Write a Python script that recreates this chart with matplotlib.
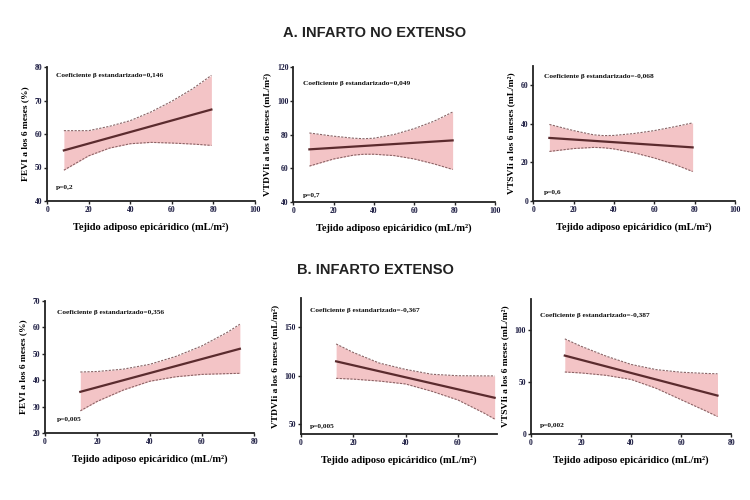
import numpy as np
import matplotlib
matplotlib.use("Agg")
import matplotlib.pyplot as plt

# --- Data ---
# A. Infarto no extenso
a_fevi_x = [8, 20, 30, 40, 50, 60, 70, 79]
a_fevi_up = [61.0, 61.0, 62.3, 64.0, 66.6, 69.8, 73.5, 77.5]
a_fevi_lo = [49.2, 53.5, 55.8, 57.1, 57.5, 57.3, 57.0, 56.6]
a_fevi_line = [55.1, 67.3]

a_vtd_x = [8, 20, 30, 35, 40, 50, 60, 70, 79]
a_vtd_up = [80.9, 79.0, 77.8, 77.5, 77.8, 80.0, 83.5, 88.0, 93.3]
a_vtd_lo = [61.3, 65.5, 67.8, 68.3, 68.3, 67.5, 65.5, 62.5, 59.3]
a_vtd_line = [71.2, 76.5]

a_vts_x = [8, 20, 30, 35, 40, 50, 60, 70, 79]
a_vts_up = [39.7, 36.5, 34.3, 33.9, 34.0, 35.0, 36.5, 38.5, 40.5]
a_vts_lo = [25.7, 27.2, 27.8, 27.6, 27.0, 25.0, 22.3, 19.0, 15.3]
a_vts_line = [32.7, 27.8]

# B. Infarto extenso
b_fevi_x = [13.5, 20, 30, 40, 50, 60, 70, 74.5]
b_fevi_up = [43.1, 43.3, 44.2, 46.0, 49.0, 53.0, 58.3, 61.2]
b_fevi_lo = [28.4, 32.0, 36.3, 39.6, 41.3, 42.2, 42.5, 42.6]
b_fevi_line = [35.6, 51.9]

b_vtd_x = [13.5, 20, 30, 40, 50, 60, 70, 74]
b_vtd_up = [132.7, 124.0, 113.0, 106.5, 101.5, 100.0, 99.8, 99.8]
b_vtd_lo = [97.3, 96.5, 94.5, 91.5, 84.0, 75.0, 61.5, 55.4]
b_vtd_line = [114.8, 77.3]

b_vts_x = [13.5, 20, 30, 40, 50, 60, 70, 74.5]
b_vts_up = [91.6, 84.5, 75.0, 67.0, 62.0, 59.5, 58.3, 58.0]
b_vts_lo = [59.7, 58.8, 56.5, 52.5, 44.0, 33.0, 22.0, 16.8]
b_vts_line = [75.5, 37.0]

coefs = ["0,146", "0,049", "-0,068", "0,356", "-0,367", "-0,387"]
pvals = ["0,2", "0,7", "0,6", "0,005", "0,005", "0,002"]

ylabels = ["FEVI a los 6 meses (%)",
           "VTDVIi a los 6 meses (mL/m²)",
           "VTSVIi a los 6 meses (mL/m²)"]
xlabel = "Tejido adiposo epicáridico (mL/m²)"

panels = [
    (a_fevi_x, a_fevi_up, a_fevi_lo, a_fevi_line),
    (a_vtd_x, a_vtd_up, a_vtd_lo, a_vtd_line),
    (a_vts_x, a_vts_up, a_vts_lo, a_vts_line),
    (b_fevi_x, b_fevi_up, b_fevi_lo, b_fevi_line),
    (b_vtd_x, b_vtd_up, b_vtd_lo, b_vtd_line),
    (b_vts_x, b_vts_up, b_vts_lo, b_vts_line),
]

# --- Layout / styling ---
rects = [
    [0.063, 0.598, 0.277, 0.268],
    [0.391, 0.596, 0.269, 0.270],
    [0.711, 0.598, 0.269, 0.270],
    [0.060, 0.134, 0.279, 0.264],
    [0.401, 0.132, 0.262, 0.272],
    [0.708, 0.132, 0.267, 0.270],
]
xlims = [(0, 100), (0, 100), (0, 100), (0, 80), (0, 75), (0, 80)]
xticks = [np.arange(0, 101, 20)] * 3 + [np.arange(0, 81, 20), np.arange(0, 61, 20), np.arange(0, 81, 20)]
ylims = [(40, 80), (40, 120), (0, 70), (20, 70), (40, 180), (0, 130)]
yticks = [np.arange(40, 81, 10), np.arange(40, 121, 20), np.arange(0, 61, 20),
          np.arange(20, 71, 10), [50, 100, 150], [0, 50, 100]]
coef_pos = [(0.04, 0.94), (0.05, 0.88), (0.055, 0.92), (0.057, 0.91), (0.046, 0.91), (0.045, 0.88)]
p_pos = [(0.04, 0.10), (0.05, 0.05), (0.055, 0.06), (0.057, 0.10), (0.046, 0.055), (0.045, 0.06)]

fill_color = "#f3c4c6"
line_color = "#5b2b2e"
edge_color = "#8a6466"
serif = ["Liberation Serif", "DejaVu Serif"]

fig = plt.figure(figsize=(7.5, 5), dpi=100, facecolor="white")

for i, (xs, up, lo, ln) in enumerate(panels):
    ax = fig.add_axes(rects[i])
    ax.fill_between(xs, lo, up, color=fill_color, linewidth=0, zorder=1)
    ax.plot(xs, up, color=edge_color, linestyle=(0, (2, 1.2)), linewidth=0.8, zorder=2)
    ax.plot(xs, lo, color=edge_color, linestyle=(0, (2, 1.2)), linewidth=0.8, zorder=2)
    ax.plot([xs[0], xs[-1]], ln, color=line_color, linewidth=1.6, zorder=3)

    ax.set_xlim(*xlims[i])
    ax.set_ylim(*ylims[i])
    ax.set_xticks(xticks[i])
    ax.set_yticks(yticks[i])
    for s in ["top", "right"]:
        ax.spines[s].set_visible(False)
    for s in ["left", "bottom"]:
        ax.spines[s].set_linewidth(1.3)
        ax.spines[s].set_color("#222222")
    ax.tick_params(length=2.5, width=1, pad=1, labelsize=5.5, colors="#222222")
    for lab in ax.get_xticklabels() + ax.get_yticklabels():
        lab.set_family(serif)
        lab.set_fontweight("bold")
        lab.set_color("#1a1a40")

    ax.set_ylabel(ylabels[i % 3], family=serif, fontweight="bold", fontsize=6.8, labelpad=4)
    ax.set_xlabel(xlabel, family=serif, fontweight="bold", fontsize=7.5, labelpad=6)

    ax.text(coef_pos[i][0], coef_pos[i][1], "Coeficiente β estandarizado=" + coefs[i],
            transform=ax.transAxes, family=serif, fontweight="bold", fontsize=5.3,
            color="#111111", va="center")
    ax.text(p_pos[i][0], p_pos[i][1], "p=" + pvals[i],
            transform=ax.transAxes, family=serif, fontweight="bold", fontsize=5.3,
            color="#111111", va="center")

fig.text(0.5, 0.934, "A. INFARTO NO EXTENSO", ha="center", va="center",
         family=["Liberation Sans", "DejaVu Sans"], fontweight="bold", fontsize=10.5, color="#222222")
fig.text(0.5, 0.46, "B. INFARTO EXTENSO", ha="center", va="center",
         family=["Liberation Sans", "DejaVu Sans"], fontweight="bold", fontsize=10.5, color="#222222")

fig.savefig("out.png", dpi=100)
